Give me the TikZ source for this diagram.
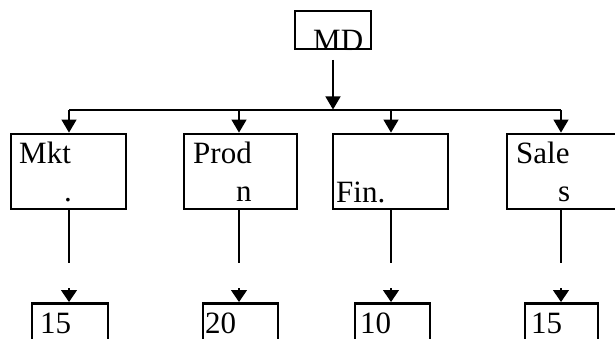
\documentclass[tikz,border=0pt]{standalone}
\usepackage{fontspec}
\setmainfont{Liberation Serif}
\usetikzlibrary{arrows.meta}
\begin{document}
\begin{tikzpicture}[x=1pt,y=-1pt,
  thinln/.style={line width=1.3pt},
  thickln/.style={line width=2.8pt},
  dept/.style={draw, thickln, inner sep=0pt, minimum height=75pt},
  unit/.style={draw, thickln, inner sep=0pt, anchor=north, minimum height=60pt},
  lbl/.style={anchor=base west, inner sep=0pt, font=\fontsize{31}{37}\selectfont},
  bigtip/.style={-{Triangle[width=15pt,length=13pt]}},
  smalltip/.style={-{Triangle[width=16pt,length=12pt]}}]
\useasboundingbox (0,0) rectangle (615,339);
\clip (0,0) rectangle (615,339);

% top box
\node[draw, thinln, inner sep=0pt, minimum width=76pt, minimum height=38pt] (md) at (333,30) {};
\node[lbl] (mdT) at (313,51) {MD};

% departments
\node[dept, minimum width=115pt] (mkt)  at (68.5,171.5) {};
\node[dept, minimum width=113pt] (prod) at (240.5,171.5) {};
\node[dept, minimum width=115pt] (fin)  at (390.5,171.5) {};
\node[dept, minimum width=115pt] (sale) at (564.5,171.5) {};

\node[lbl] (mktA)  at (19,164)  {Mkt};
\node[lbl] (mktB)  at (64,201)  {.};
\node[lbl] (prodA) at (193,164) {Prod};
\node[lbl] (prodB) at (236,201) {n};
\node[lbl] (finA)  at (336,202) {Fin.};
\node[lbl] (saleA) at (516,164) {Sale};
\node[lbl] (saleB) at (558,201) {s};

% staff units
\node[unit, minimum width=76pt] (u1) at (70,302) {};
\node[unit, minimum width=75pt] (u2) at (240.5,302) {};
\node[unit, minimum width=75pt] (u3) at (392.5,302) {};
\node[unit, minimum width=73pt] (u4) at (561.5,302) {};

\node[lbl] (u1T) at (40,333)  {15};
\node[lbl] (u2T) at (205,333) {20};
\node[lbl] (u3T) at (360,333) {10};
\node[lbl] (u4T) at (531,333) {15};

% bus and branch points
\coordinate (mdA) at (333,60);
\coordinate (bm) at (333,109.5);
\coordinate (b1) at (69,110);
\coordinate (b2) at (239,110);
\coordinate (b3) at (391,110);
\coordinate (b4) at (561,110);

\draw[thinln, bigtip] (mdA) -- (bm);
\draw[thinln] (b1) -- (b4);
\foreach \b/\d in {b1/mkt, b2/prod, b3/fin, b4/sale}
  \draw[thinln, bigtip] (\b) -- (\d.north -| \b);

% drops to the staff units
\foreach \b/\d/\u in {b1/mkt/u1, b2/prod/u2, b3/fin/u3, b4/sale/u4} {
  \coordinate (\u e) at ([yshift=-153pt]\b);
  \draw[thickln] (\d.south -| \b) -- (\u e);
  \draw[thinln, smalltip] ([yshift=-178pt]\b) -- (\u.north -| \b);
}
\end{tikzpicture}
\end{document}
